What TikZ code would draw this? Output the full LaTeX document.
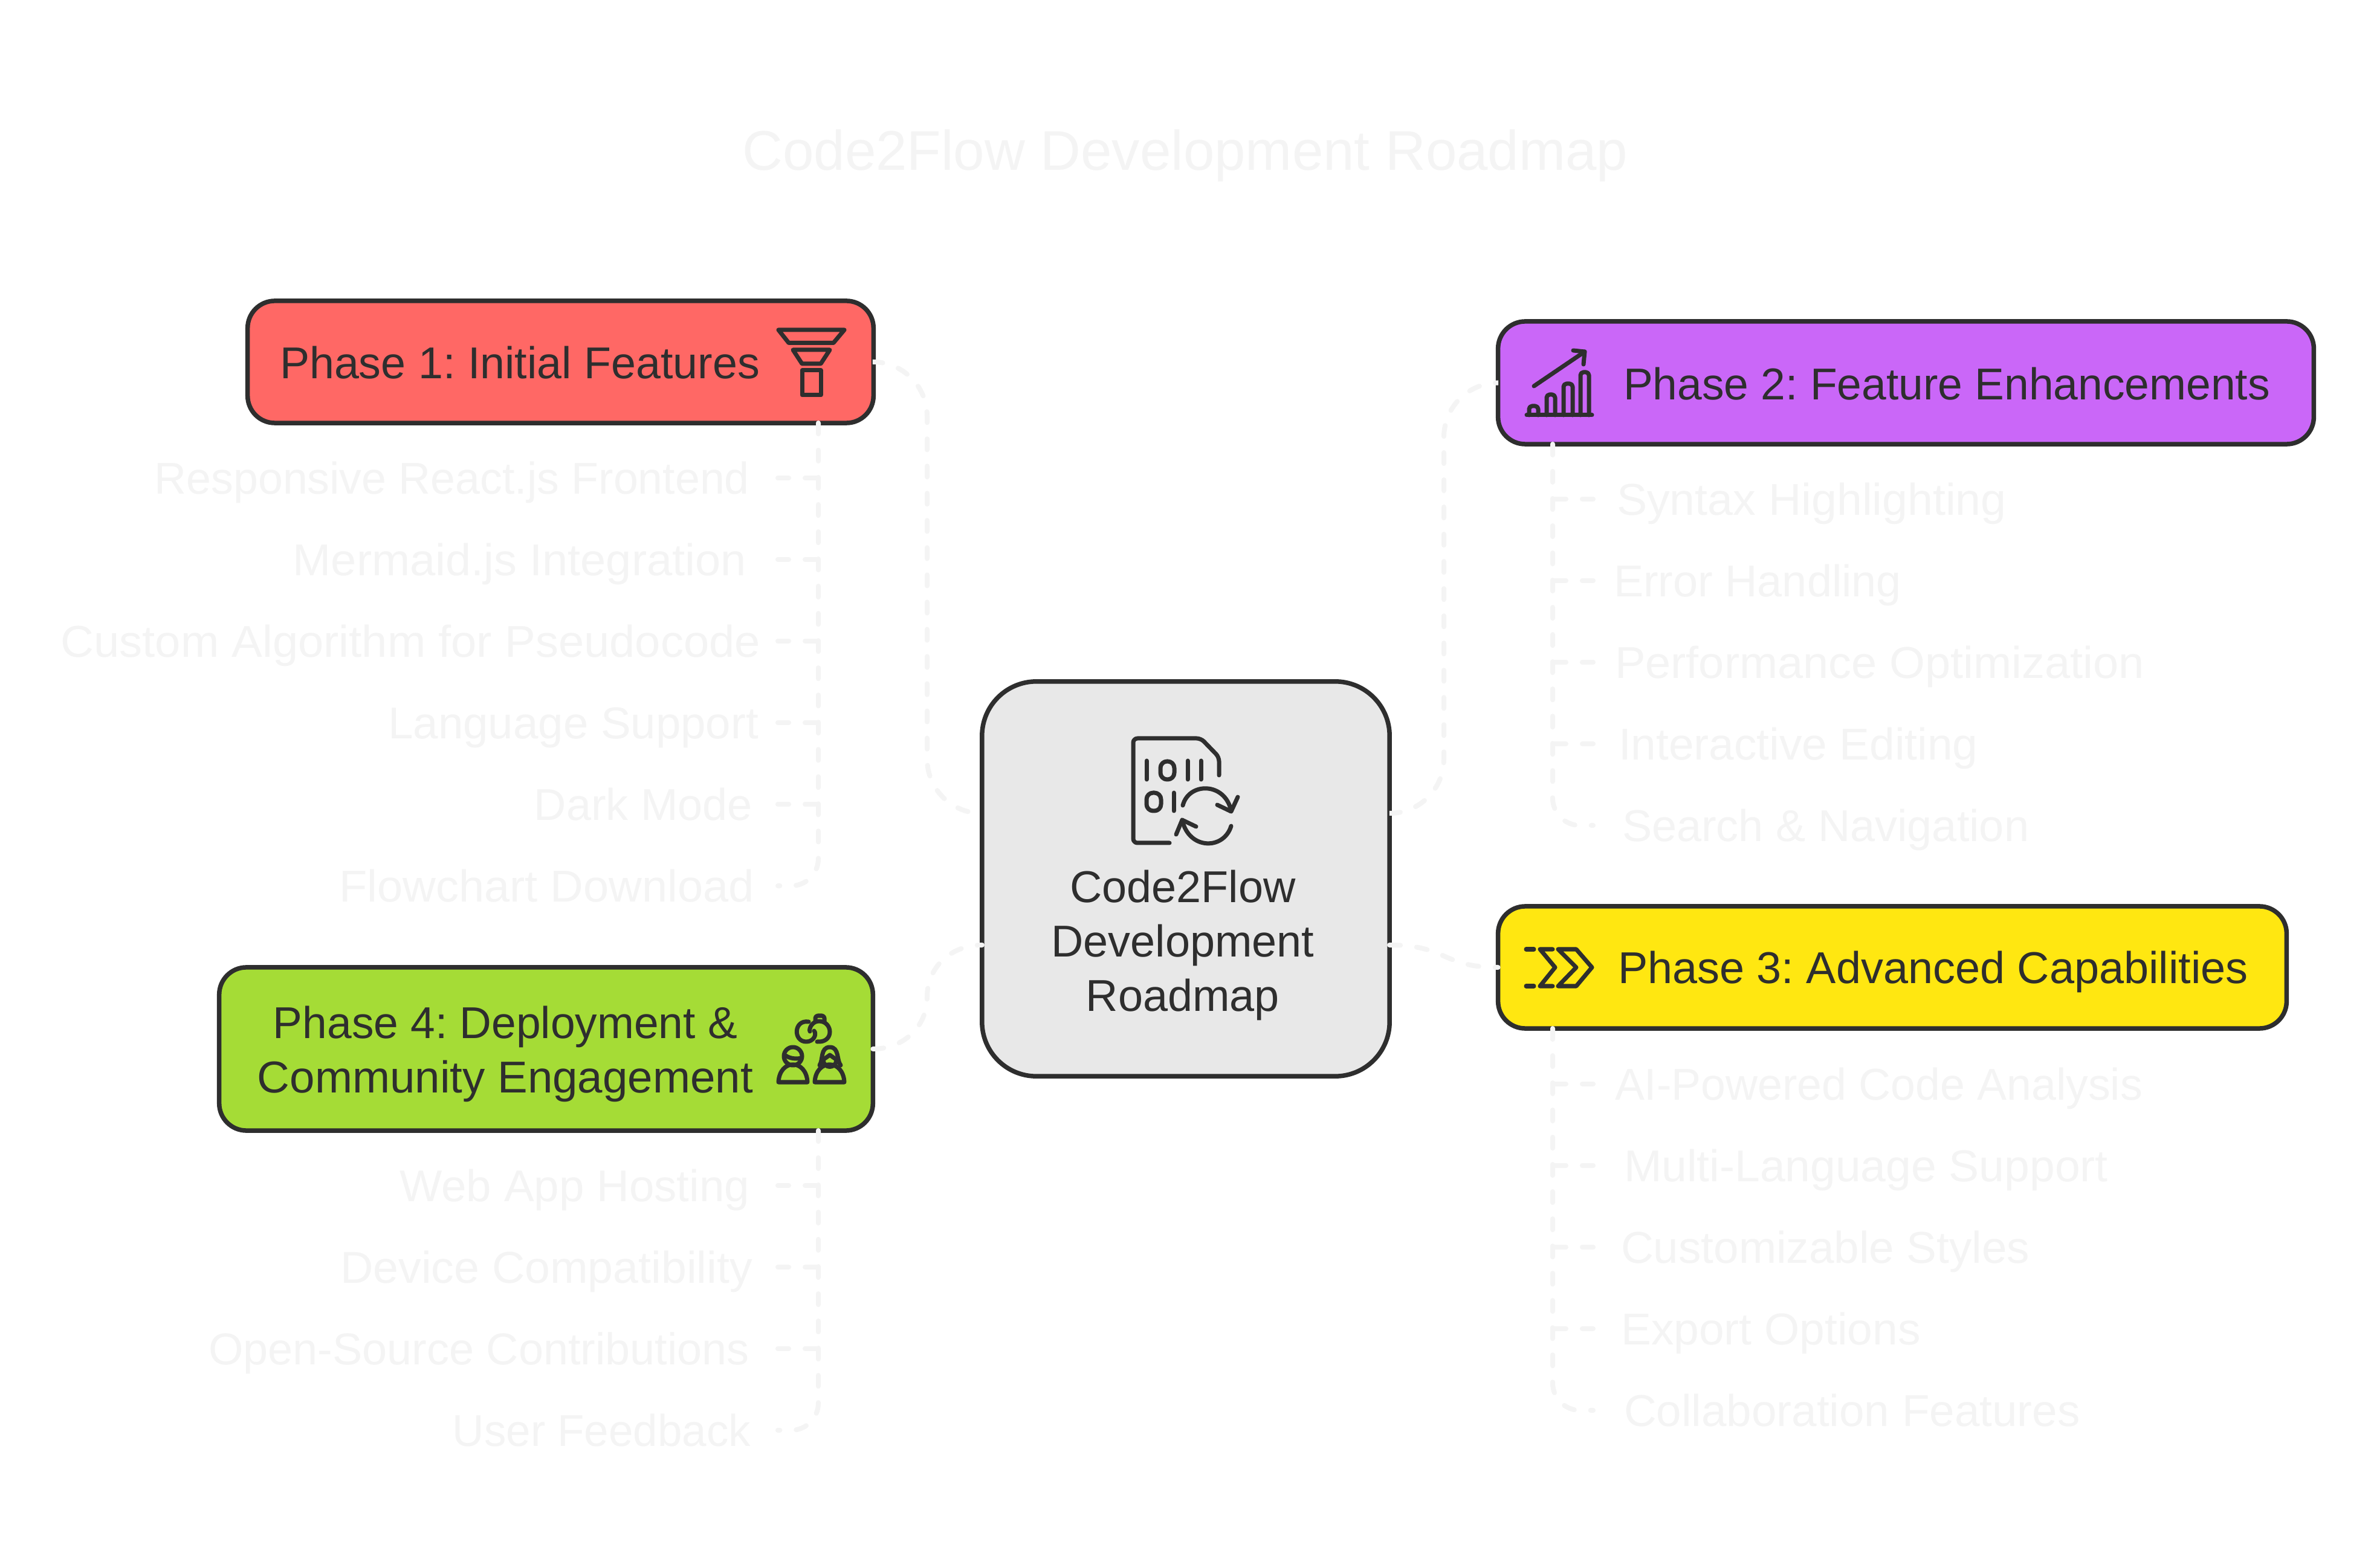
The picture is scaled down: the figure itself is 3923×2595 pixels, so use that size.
\documentclass[tikz,border=0pt]{standalone}
\usepackage{graphicx}
\usepackage{fontspec}
\setmainfont{Liberation Sans}
\frenchspacing
\newcommand{\sx}[2]{\scalebox{#1}[1]{#2}}
\definecolor{ink}{HTML}{2E2E2E}
\definecolor{faint}{HTML}{F4F4F4}
\definecolor{redbox}{HTML}{FF6865}
\definecolor{purplebox}{HTML}{CA67F8}
\definecolor{yellowbox}{HTML}{FFE711}
\definecolor{greenbox}{HTML}{A5DC36}
\definecolor{greybox}{HTML}{E8E8E8}
\tikzset{
  x=0.01cm,y=-0.01cm,
  box/.style={draw=ink,line width=0.075cm,rounded corners=0.45cm,inner sep=0pt,outer sep=0pt},
  basefont/.style={font=\fontsize{21}{25.6}\selectfont,inner sep=0pt,outer sep=0pt,text height=0.53cm,text depth=0cm},
  label/.style={basefont,text=ink},
  item/.style={basefont,text=faint},
  conn/.style={draw=faint,line width=0.08cm,line cap=round,dash pattern=on 0.18cm off 0.27cm},
  icon/.style={draw=ink,line width=0.07cm,line cap=round,line join=round},
}
\begin{document}
\begin{tikzpicture}
\useasboundingbox (0,0) rectangle (3923,2595);
\fill[white] (0,0) rectangle (3923,2595);
% title
\node[font=\fontsize{26.3}{32}\selectfont,text=faint,inner sep=0pt] (title) at (1961,258) {Code2Flow Development Roadmap};
% boxes
\node[box,fill=greybox,rounded corners=0.9cm,minimum width=6.74cm,minimum height=6.53cm] (c) at (1962,1454.5) {};
\node[box,fill=redbox,minimum width=10.35cm,minimum height=2.02cm] (p1) at (927.5,599) {};
\node[box,fill=purplebox,minimum width=13.49cm,minimum height=2.03cm] (p2) at (3153.5,633.5) {};
\node[box,fill=yellowbox,minimum width=13.04cm,minimum height=2.02cm] (p3) at (3131,1601) {};
\node[box,fill=greenbox,minimum width=10.81cm,minimum height=2.70cm] (p4) at (903.5,1736) {};
% box labels
\node[label,align=center,text height=,text depth=] (ct) at (1957,1564) {Code2Flow\\Development\\Roadmap};
\node[label,anchor=west] (p1t) at (463,600) {\sx{0.997}{Phase 1: Initial Features}};
\node[label,anchor=west] (p2t) at (2686,635) {\sx{0.991}{Phase 2: Feature Enhancements}};
\node[label,anchor=west] (p3t) at (2677,1601) {Phase 3: Advanced Capabilities};
\node[label,align=center,text height=,text depth=] (p4t) at (836,1744) {\sx{0.99}{Phase 4: Deployment \&}\\\sx{1.009}{Community Engagement}};
% items
\node[item,anchor=east] (a1) at (1240,791) {\sx{0.995}{Responsive React.js Frontend}};
\node[item,anchor=east] (a2) at (1235,926) {\sx{1.027}{Mermaid.js Integration}};
\node[item,anchor=east] (a3) at (1258,1061) {\sx{1.029}{Custom Algorithm for Pseudocode}};
\node[item,anchor=east] (a4) at (1255,1196) {\sx{1.008}{Language Support}};
\node[item,anchor=east] (a5) at (1245,1331) {Dark Mode};
\node[item,anchor=east] (a6) at (1248,1466) {\sx{1.026}{Flowchart Download}};
\node[item,anchor=west] (b1) at (2675,826) {\sx{1.02}{Syntax Highlighting}};
\node[item,anchor=west] (b2) at (2670,961) {Error Handling};
\node[item,anchor=west] (b3) at (2672,1096) {\sx{1.026}{Performance Optimization}};
\node[item,anchor=west] (b4) at (2678,1231) {\sx{1.013}{Interactive Editing}};
\node[item,anchor=west] (b5) at (2684,1366) {Search \& Navigation};
\node[item,anchor=west] (d1) at (2672,1794) {\sx{0.994}{AI-Powered Code Analysis}};
\node[item,anchor=west] (d2) at (2687,1929) {\sx{1.016}{Multi-Language Support}};
\node[item,anchor=west] (d3) at (2682,2064) {\sx{1.011}{Customizable Styles}};
\node[item,anchor=west] (d4) at (2682,2199) {\sx{1.015}{Export Options}};
\node[item,anchor=west] (d5) at (2687,2334) {\sx{1.01}{Collaboration Features}};
\node[item,anchor=east] (e1) at (1240,1962) {\sx{1.009}{Web App Hosting}};
\node[item,anchor=east] (e2) at (1245,2097) {\sx{1.019}{Device Compatibility}};
\node[item,anchor=east] (e3) at (1240,2232) {Open-Source Contributions};
\node[item,anchor=east] (e4) at (1242,2367) {\sx{0.985}{User Feedback}};
% connector anchors
\coordinate (cl1) at (1625,1346);
\coordinate (cl2) at (1625,1564);
\coordinate (cr1) at (2299,1346);
\coordinate (cr2) at (2299,1564);
\coordinate (lx) at (1534,1000);
\coordinate (rx) at (2389,1000);
\coordinate (lx2) at (1534,1650);
\coordinate (p1b) at (1354,700);
\coordinate (p1l) at (1287,700);
\coordinate (p4b) at (1354,1871);
\coordinate (p4l) at (1287,1871);
\coordinate (p2b) at (2569,735);
\coordinate (p2r) at (2636,735);
\coordinate (p3b) at (2569,1702);
\coordinate (p3r) at (2636,1702);
% main connectors
\draw[conn,rounded corners=0.9cm] (p1.east) -| (lx) |- (cl1);
\draw[conn,rounded corners=0.9cm] (cr1) -| (rx) |- (p2.west);
\draw[conn] (cr2) .. controls (2395,1564) and (2385,1601) .. (p3.west);
\draw[conn] (p4.east) .. controls (1494,1736) and (1534,1700) .. (lx2) .. controls (1534,1600) and (1574,1564) .. (cl2);
% spines
\draw[conn,rounded corners=0.45cm] (p1b) |- (a6 -| p1l);
\draw[conn,rounded corners=0.45cm] (p2b) |- (b5 -| p2r);
\draw[conn,rounded corners=0.45cm] (p3b) |- (d5 -| p3r);
\draw[conn,rounded corners=0.45cm] (p4b) |- (e4 -| p4l);
% branches
\foreach \n in {a1,a2,a3,a4,a5} \draw[conn] (\n -| p1l) -- (\n -| p1b);
\foreach \n in {e1,e2,e3} \draw[conn] (\n -| p4l) -- (\n -| p4b);
\foreach \n in {b1,b2,b3,b4} \draw[conn] (\n -| p2r) -- (\n -| p2b);
\foreach \n in {d1,d2,d3,d4} \draw[conn] (\n -| p3r) -- (\n -| p3b);
% icon: funnel
\draw[icon] (1288,546) -- (1397,546) -- (1379,567.5) -- (1305,567.5) -- cycle;
\draw[icon] (1312,579) -- (1373,579) -- (1358,602) -- (1327,602) -- cycle;
\draw[icon] (1327,613) rectangle (1358,654);
% icon: chart
\draw[icon] (2538,639) -- (2622,582);
\draw[icon] (2603,580) -- (2622,582) -- (2620,603);
\draw[icon] (2526,687) -- (2634,687);
\draw[icon,rounded corners=0.05cm] (2530,687) -- (2530,672) -- (2545,672) -- (2545,687);
\draw[icon,rounded corners=0.05cm] (2559,687) -- (2559,653) -- (2573,653) -- (2573,687);
\draw[icon,rounded corners=0.05cm] (2587,687) -- (2587,635) -- (2602,635) -- (2602,687);
\draw[icon,rounded corners=0.05cm] (2615,687) -- (2615,616) -- (2629,616) -- (2629,687);
% icon: chevrons
\draw[icon] (2525,1571) -- (2538,1571);
\draw[icon] (2525,1632) -- (2538,1632);
\draw[icon] (2569,1571) -- (2548,1571) -- (2573,1601) -- (2548,1632) -- (2569,1632);
\draw[icon] (2578,1571) -- (2608,1571) -- (2634,1601) -- (2608,1632) -- (2578,1632) -- (2608,1601) -- cycle;
% icon: people and link
\draw[icon] (1312,1748) circle [radius=0.15cm];
\draw[icon] (1300,1747) .. controls (1307,1752) and (1318,1753) .. (1326,1751);
\draw[icon] (1288,1791) .. controls (1290,1752) and (1334,1752) .. (1336,1791) -- cycle;
\draw[icon] (1348,1791) .. controls (1350,1752) and (1395,1752) .. (1397,1791) -- cycle;
\draw[icon] (1356,1763) .. controls (1362,1755) and (1357,1733) .. (1373,1733) .. controls (1389,1733) and (1384,1755) .. (1391,1763);
\draw[icon] (1363,1753) -- (1373,1746) -- (1383,1753);
\draw[icon] (1362,1755) .. controls (1364,1769) and (1382,1769) .. (1384,1755);
\draw[icon] (1338,1691) .. controls (1313,1687) and (1312,1724) .. (1334,1724) .. controls (1346,1724) and (1352,1712) .. (1347,1706);
\draw[icon] (1352,1724) .. controls (1381,1726) and (1378,1690) .. (1355,1690) .. controls (1344,1690) and (1338,1702) .. (1340,1707);
\draw[icon,rounded corners=0.04cm] (1349,1690) -- (1349,1681) -- (1364,1681) -- (1364,1690);
% icon: document
\draw[icon,rounded corners=0.07cm] (2017,1283) -- (2017,1253) -- (1987,1222) -- (1875,1222) -- (1875,1395) -- (1935,1395);
\draw[icon] (1897,1259) -- (1897,1290);
\draw[icon,rounded corners=0.11cm] (1920,1260) rectangle (1943,1290);
\draw[icon] (1965,1259) -- (1965,1290);
\draw[icon] (1987,1259) -- (1987,1290);
\draw[icon,rounded corners=0.11cm] (1897,1312) rectangle (1921,1342);
\draw[icon] (1942,1312) -- (1942,1342);
\draw[icon] (1957,1333) .. controls (1967,1294) and (2027,1294) .. (2037,1342);
\draw[icon] (2014,1332) -- (2037,1343) -- (2048,1319);
\draw[icon] (2037,1367) .. controls (2025,1407) and (1967,1407) .. (1956,1357);
\draw[icon] (1979,1368) -- (1956,1357) -- (1946,1381);
\end{tikzpicture}
\end{document}
